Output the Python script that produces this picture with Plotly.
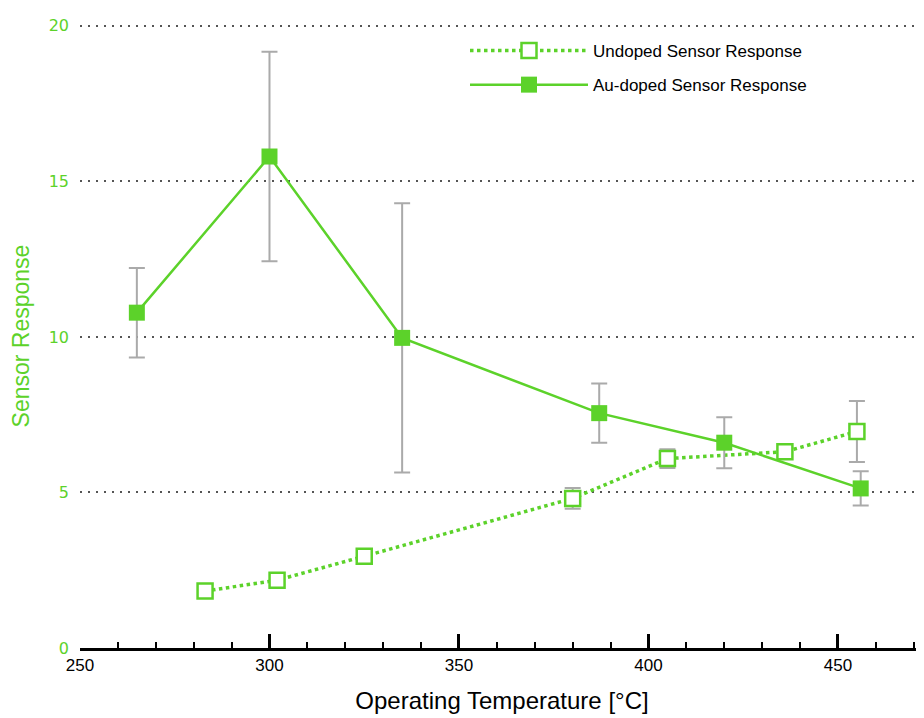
import plotly.graph_objects as go

# Data
au_temp = [265, 300, 335, 387, 420, 456]
au_resp = [10.78, 15.8, 9.97, 7.55, 6.6, 5.13]
au_err = [1.44, 3.37, 4.33, 0.95, 0.82, 0.55]

un_temp = [283, 302, 325, 380, 405, 436, 455]
un_resp = [1.83, 2.18, 2.95, 4.81, 6.09, 6.31, 6.96]
un_err = [0.08, 0.12, 0.08, 0.33, 0.3, 0.05, 0.98]

y_ticks = [0, 5, 10, 15, 20]
x_ticks = [250, 300, 350, 400, 450]

GREEN = "#5cd22a"
GRAY = "#aaaaaa"
FONT = "Liberation Sans, Arial, Helvetica, sans-serif"

fig = go.Figure()

fig.add_trace(go.Scatter(
    x=un_temp, y=un_resp, mode="lines+markers",
    name="Undoped Sensor Response", legendgroup="a",
    line=dict(color=GREEN, width=3.5, dash="dot"),
    marker=dict(symbol="square", size=15, color="white",
                line=dict(color=GREEN, width=2.5)),
    error_y=dict(type="data", array=un_err, visible=True,
                 color=GRAY, thickness=2, width=8),
))

fig.add_trace(go.Scatter(
    x=au_temp, y=au_resp, mode="lines+markers",
    name="Au-doped Sensor Response", legendgroup="b",
    line=dict(color=GREEN, width=2.5),
    marker=dict(symbol="square", size=16, color=GREEN,
                line=dict(color=GREEN, width=0)),
    error_y=dict(type="data", array=au_err, visible=True,
                 color=GRAY, thickness=2, width=8),
))

fig.update_layout(
    width=916, height=710,
    margin=dict(l=72, r=0, t=16, b=70, autoexpand=False),
    plot_bgcolor="white", paper_bgcolor="white",
    font=dict(family=FONT, size=17, color="black"),
    showlegend=True,
    legend=dict(
        x=(457 - 72) / 844, y=0.9856, xanchor="left", yanchor="top",
        bgcolor="rgba(0,0,0,0)", font=dict(size=17, color="black"),
        itemwidth=118, tracegroupgap=9, traceorder="grouped",
    ),
    xaxis=dict(
        range=[250, 472.7], tickvals=x_ticks, automargin=False,
        showgrid=False, zeroline=False,
        showline=True, linecolor="black", linewidth=2.5,
        ticks="inside", ticklen=14, tickwidth=2.5, tickcolor="black",
        minor=dict(ticks="inside", dtick=10, ticklen=6, tickwidth=1.5, tickcolor="black", showgrid=False),
        tickfont=dict(size=17, color="black"),
        title=dict(text="Operating Temperature [°C]", font=dict(size=24, color="black"), standoff=19),
    ),
    yaxis=dict(
        range=[0, 20.06], tickvals=y_ticks, automargin=False,
        showgrid=True, gridcolor="#555555", griddash="2px,6px", gridwidth=2,
        zeroline=False, showline=False, ticks="",
        tickfont=dict(family="DejaVu Sans, Verdana, sans-serif", size=16, color=GREEN),
        ticklabelstandoff=10,
        title=dict(text="Sensor Response", font=dict(size=23, color=GREEN), standoff=14),
    ),
)

fig.write_html("out.html")
